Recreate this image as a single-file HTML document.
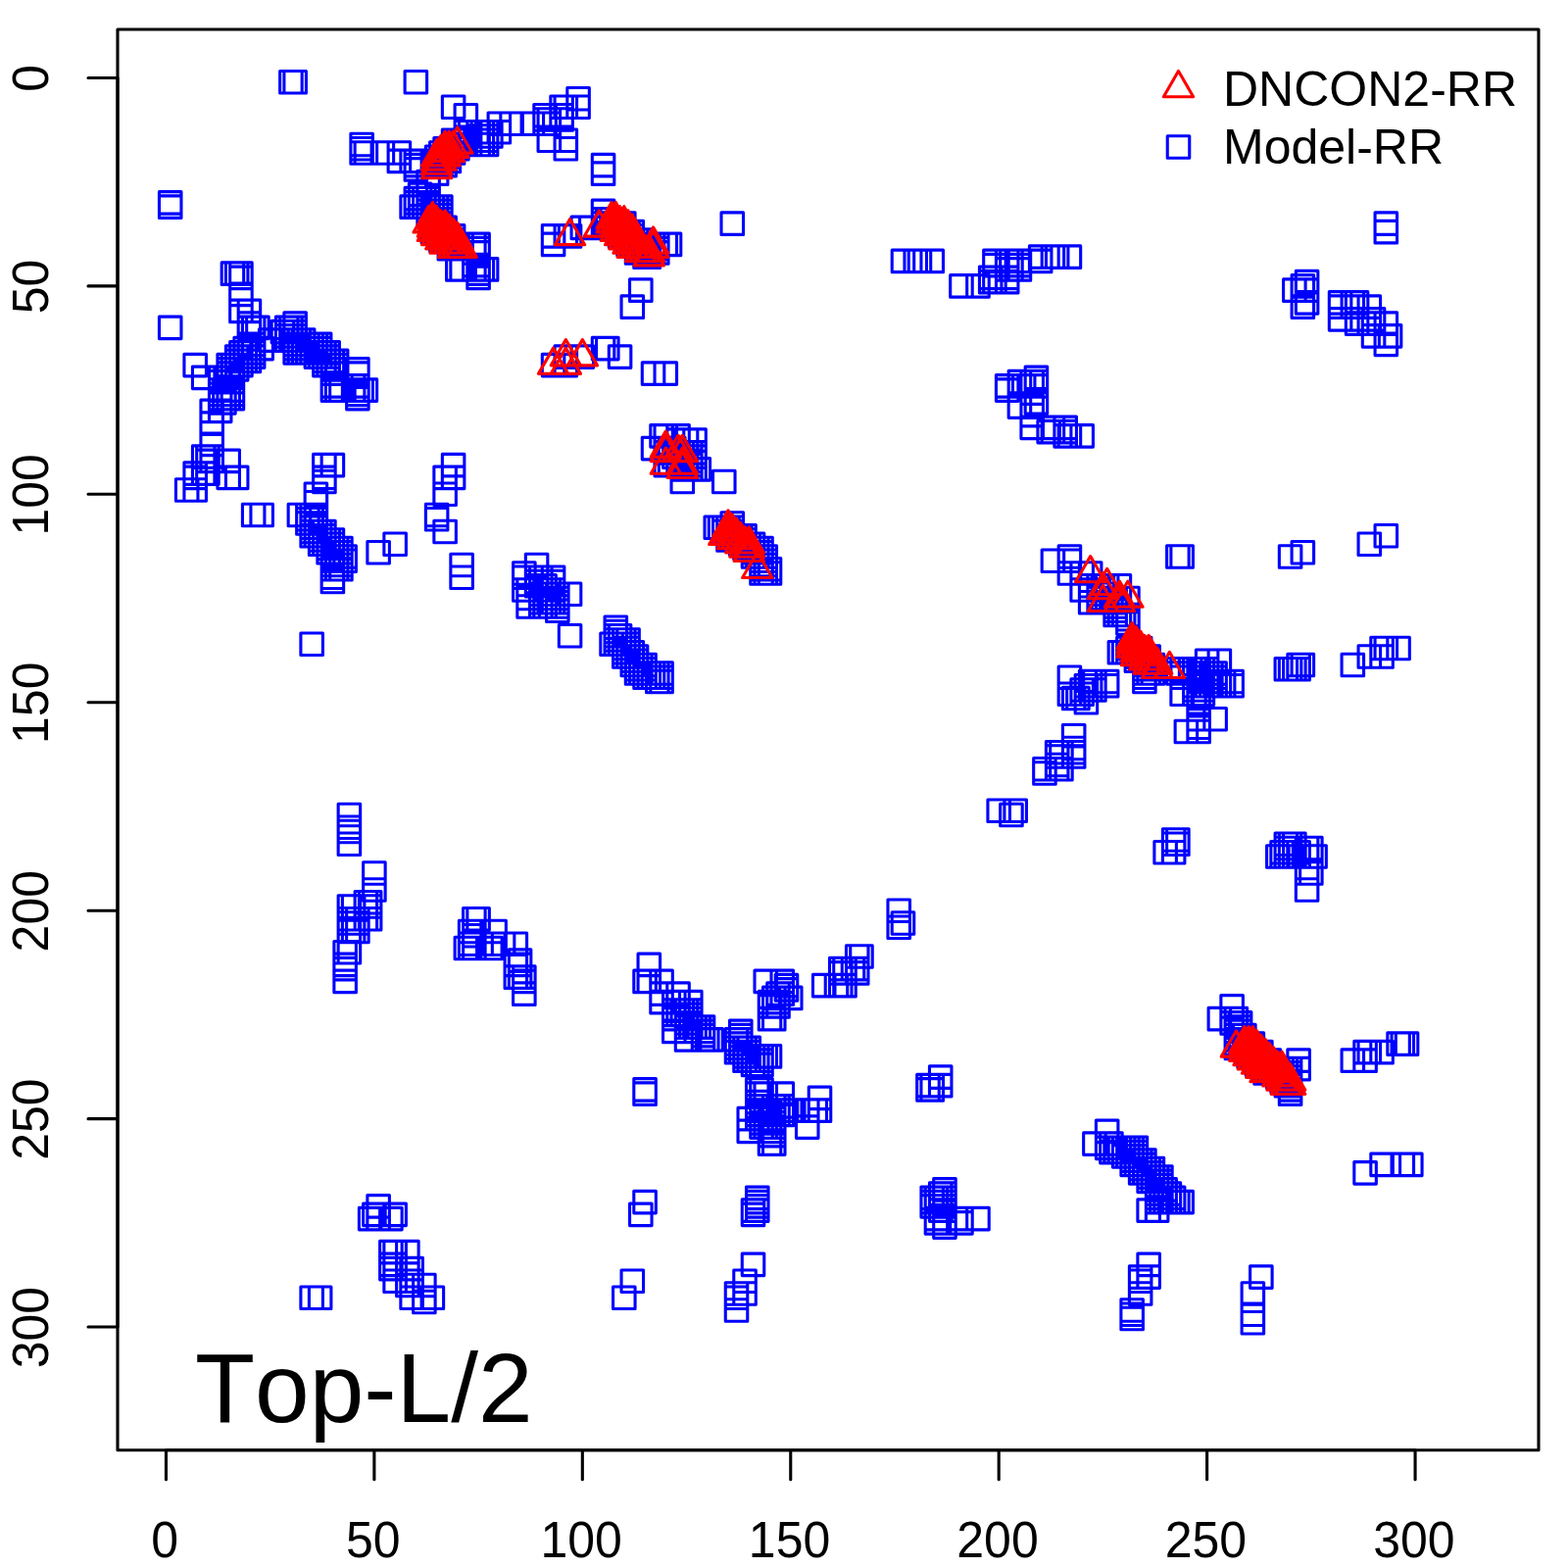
<!DOCTYPE html>
<html lang="en">
<head>
<meta charset="utf-8">
<title>Top-L/2 contact map: DNCON2-RR vs Model-RR</title>
<style>
html,body{margin:0;padding:0;background:#fff;}
body{width:1600px;height:1600px;overflow:hidden;}
svg{display:block;}
text{font-family:"Liberation Sans","DejaVu Sans",sans-serif;fill:#000;font-kerning:none;}
.ax{font-size:50px;}
.lg{font-size:50px;}
.big{font-size:100px;}
</style>
</head>
<body>
<svg width="1600" height="1600" viewBox="0 0 1600 1600">
<rect x="0" y="0" width="1600" height="1600" fill="#fff"/>
<g fill="none" stroke-width="3.1" stroke-linejoin="round" stroke-linecap="round">
<path stroke="#0000ff" d="M285.66 72.45h22.5v22.5h-22.5zM289.91 72.45h22.5v22.5h-22.5zM413.12 72.45h22.5v22.5h-22.5zM578.82 89.44h22.5v22.5h-22.5zM451.36 97.94h22.5v22.5h-22.5zM561.83 97.94h22.5v22.5h-22.5zM566.08 97.94h22.5v22.5h-22.5zM578.82 97.94h22.5v22.5h-22.5zM464.11 106.44h22.5v22.5h-22.5zM544.83 106.44h22.5v22.5h-22.5zM561.83 106.44h22.5v22.5h-22.5zM544.83 110.69h22.5v22.5h-22.5zM549.08 110.69h22.5v22.5h-22.5zM561.83 110.69h22.5v22.5h-22.5zM498.1 114.94h22.5v22.5h-22.5zM510.84 114.94h22.5v22.5h-22.5zM532.09 114.94h22.5v22.5h-22.5zM544.83 114.94h22.5v22.5h-22.5zM549.08 114.94h22.5v22.5h-22.5zM464.11 123.43h22.5v22.5h-22.5zM468.36 123.43h22.5v22.5h-22.5zM476.85 123.43h22.5v22.5h-22.5zM481.1 123.43h22.5v22.5h-22.5zM485.35 123.43h22.5v22.5h-22.5zM489.6 123.43h22.5v22.5h-22.5zM498.1 123.43h22.5v22.5h-22.5zM476.85 127.68h22.5v22.5h-22.5zM481.1 127.68h22.5v22.5h-22.5zM485.35 127.68h22.5v22.5h-22.5zM489.6 127.68h22.5v22.5h-22.5zM451.36 131.93h22.5v22.5h-22.5zM455.61 131.93h22.5v22.5h-22.5zM459.86 131.93h22.5v22.5h-22.5zM464.11 131.93h22.5v22.5h-22.5zM468.36 131.93h22.5v22.5h-22.5zM476.85 131.93h22.5v22.5h-22.5zM481.1 131.93h22.5v22.5h-22.5zM485.35 131.93h22.5v22.5h-22.5zM549.08 131.93h22.5v22.5h-22.5zM566.08 131.93h22.5v22.5h-22.5zM357.89 136.18h22.5v22.5h-22.5zM451.36 136.18h22.5v22.5h-22.5zM455.61 136.18h22.5v22.5h-22.5zM459.86 136.18h22.5v22.5h-22.5zM464.11 136.18h22.5v22.5h-22.5zM468.36 136.18h22.5v22.5h-22.5zM476.85 136.18h22.5v22.5h-22.5zM481.1 136.18h22.5v22.5h-22.5zM485.35 136.18h22.5v22.5h-22.5zM357.89 140.43h22.5v22.5h-22.5zM442.86 140.43h22.5v22.5h-22.5zM447.11 140.43h22.5v22.5h-22.5zM451.36 140.43h22.5v22.5h-22.5zM455.61 140.43h22.5v22.5h-22.5zM566.08 140.43h22.5v22.5h-22.5zM357.89 144.68h22.5v22.5h-22.5zM362.14 144.68h22.5v22.5h-22.5zM379.13 144.68h22.5v22.5h-22.5zM396.13 144.68h22.5v22.5h-22.5zM438.61 144.68h22.5v22.5h-22.5zM442.86 144.68h22.5v22.5h-22.5zM447.11 144.68h22.5v22.5h-22.5zM451.36 144.68h22.5v22.5h-22.5zM434.37 148.93h22.5v22.5h-22.5zM438.61 148.93h22.5v22.5h-22.5zM442.86 148.93h22.5v22.5h-22.5zM447.11 148.93h22.5v22.5h-22.5zM396.13 153.17h22.5v22.5h-22.5zM408.87 153.17h22.5v22.5h-22.5zM413.12 153.17h22.5v22.5h-22.5zM430.12 153.17h22.5v22.5h-22.5zM434.37 153.17h22.5v22.5h-22.5zM438.61 153.17h22.5v22.5h-22.5zM442.86 153.17h22.5v22.5h-22.5zM447.11 153.17h22.5v22.5h-22.5zM413.12 157.42h22.5v22.5h-22.5zM430.12 157.42h22.5v22.5h-22.5zM434.37 157.42h22.5v22.5h-22.5zM438.61 157.42h22.5v22.5h-22.5zM442.86 157.42h22.5v22.5h-22.5zM604.31 157.42h22.5v22.5h-22.5zM413.12 161.67h22.5v22.5h-22.5zM434.37 165.92h22.5v22.5h-22.5zM604.31 165.92h22.5v22.5h-22.5zM425.87 174.42h22.5v22.5h-22.5zM417.37 187.16h22.5v22.5h-22.5zM413.12 191.41h22.5v22.5h-22.5zM417.37 191.41h22.5v22.5h-22.5zM421.62 191.41h22.5v22.5h-22.5zM425.87 191.41h22.5v22.5h-22.5zM162.45 195.66h22.5v22.5h-22.5zM413.12 195.66h22.5v22.5h-22.5zM417.37 195.66h22.5v22.5h-22.5zM421.62 195.66h22.5v22.5h-22.5zM425.87 195.66h22.5v22.5h-22.5zM162.45 199.91h22.5v22.5h-22.5zM408.87 199.91h22.5v22.5h-22.5zM413.12 199.91h22.5v22.5h-22.5zM417.37 199.91h22.5v22.5h-22.5zM421.62 199.91h22.5v22.5h-22.5zM425.87 199.91h22.5v22.5h-22.5zM430.12 199.91h22.5v22.5h-22.5zM434.37 199.91h22.5v22.5h-22.5zM438.61 199.91h22.5v22.5h-22.5zM425.87 204.16h22.5v22.5h-22.5zM430.12 204.16h22.5v22.5h-22.5zM434.37 204.16h22.5v22.5h-22.5zM438.61 204.16h22.5v22.5h-22.5zM604.31 204.16h22.5v22.5h-22.5zM425.87 208.41h22.5v22.5h-22.5zM430.12 208.41h22.5v22.5h-22.5zM434.37 208.41h22.5v22.5h-22.5zM438.61 208.41h22.5v22.5h-22.5zM430.12 212.66h22.5v22.5h-22.5zM434.37 212.66h22.5v22.5h-22.5zM438.61 212.66h22.5v22.5h-22.5zM604.31 212.66h22.5v22.5h-22.5zM608.56 212.66h22.5v22.5h-22.5zM612.81 212.66h22.5v22.5h-22.5zM430.12 216.9h22.5v22.5h-22.5zM434.37 216.9h22.5v22.5h-22.5zM438.61 216.9h22.5v22.5h-22.5zM604.31 216.9h22.5v22.5h-22.5zM608.56 216.9h22.5v22.5h-22.5zM612.81 216.9h22.5v22.5h-22.5zM617.06 216.9h22.5v22.5h-22.5zM621.31 216.9h22.5v22.5h-22.5zM625.56 216.9h22.5v22.5h-22.5zM736.02 216.9h22.5v22.5h-22.5zM1403.07 216.9h22.5v22.5h-22.5zM430.12 221.15h22.5v22.5h-22.5zM434.37 221.15h22.5v22.5h-22.5zM438.61 221.15h22.5v22.5h-22.5zM442.86 221.15h22.5v22.5h-22.5zM583.07 221.15h22.5v22.5h-22.5zM591.57 221.15h22.5v22.5h-22.5zM604.31 221.15h22.5v22.5h-22.5zM608.56 221.15h22.5v22.5h-22.5zM612.81 221.15h22.5v22.5h-22.5zM617.06 221.15h22.5v22.5h-22.5zM621.31 221.15h22.5v22.5h-22.5zM625.56 221.15h22.5v22.5h-22.5zM430.12 225.4h22.5v22.5h-22.5zM434.37 225.4h22.5v22.5h-22.5zM438.61 225.4h22.5v22.5h-22.5zM442.86 225.4h22.5v22.5h-22.5zM621.31 225.4h22.5v22.5h-22.5zM625.56 225.4h22.5v22.5h-22.5zM629.81 225.4h22.5v22.5h-22.5zM634.05 225.4h22.5v22.5h-22.5zM1403.07 225.4h22.5v22.5h-22.5zM438.61 229.65h22.5v22.5h-22.5zM442.86 229.65h22.5v22.5h-22.5zM447.11 229.65h22.5v22.5h-22.5zM451.36 229.65h22.5v22.5h-22.5zM553.33 229.65h22.5v22.5h-22.5zM566.08 229.65h22.5v22.5h-22.5zM570.32 229.65h22.5v22.5h-22.5zM621.31 229.65h22.5v22.5h-22.5zM625.56 229.65h22.5v22.5h-22.5zM629.81 229.65h22.5v22.5h-22.5zM634.05 229.65h22.5v22.5h-22.5zM438.61 233.9h22.5v22.5h-22.5zM442.86 233.9h22.5v22.5h-22.5zM447.11 233.9h22.5v22.5h-22.5zM451.36 233.9h22.5v22.5h-22.5zM629.81 233.9h22.5v22.5h-22.5zM634.05 233.9h22.5v22.5h-22.5zM638.3 233.9h22.5v22.5h-22.5zM642.55 233.9h22.5v22.5h-22.5zM447.11 238.15h22.5v22.5h-22.5zM451.36 238.15h22.5v22.5h-22.5zM455.61 238.15h22.5v22.5h-22.5zM459.86 238.15h22.5v22.5h-22.5zM472.6 238.15h22.5v22.5h-22.5zM476.85 238.15h22.5v22.5h-22.5zM553.33 238.15h22.5v22.5h-22.5zM629.81 238.15h22.5v22.5h-22.5zM634.05 238.15h22.5v22.5h-22.5zM638.3 238.15h22.5v22.5h-22.5zM642.55 238.15h22.5v22.5h-22.5zM646.8 238.15h22.5v22.5h-22.5zM651.05 238.15h22.5v22.5h-22.5zM655.3 238.15h22.5v22.5h-22.5zM659.55 238.15h22.5v22.5h-22.5zM668.04 238.15h22.5v22.5h-22.5zM672.29 238.15h22.5v22.5h-22.5zM447.11 242.4h22.5v22.5h-22.5zM451.36 242.4h22.5v22.5h-22.5zM455.61 242.4h22.5v22.5h-22.5zM459.86 242.4h22.5v22.5h-22.5zM472.6 242.4h22.5v22.5h-22.5zM476.85 242.4h22.5v22.5h-22.5zM638.3 242.4h22.5v22.5h-22.5zM642.55 242.4h22.5v22.5h-22.5zM646.8 242.4h22.5v22.5h-22.5zM651.05 242.4h22.5v22.5h-22.5zM655.3 242.4h22.5v22.5h-22.5zM659.55 242.4h22.5v22.5h-22.5zM472.6 246.65h22.5v22.5h-22.5zM476.85 246.65h22.5v22.5h-22.5zM638.3 246.65h22.5v22.5h-22.5zM642.55 246.65h22.5v22.5h-22.5zM646.8 246.65h22.5v22.5h-22.5zM651.05 246.65h22.5v22.5h-22.5zM655.3 246.65h22.5v22.5h-22.5zM659.55 246.65h22.5v22.5h-22.5zM646.8 250.89h22.5v22.5h-22.5zM651.05 250.89h22.5v22.5h-22.5zM1050.43 250.89h22.5v22.5h-22.5zM1063.17 250.89h22.5v22.5h-22.5zM1067.42 250.89h22.5v22.5h-22.5zM1080.17 250.89h22.5v22.5h-22.5zM910.22 255.14h22.5v22.5h-22.5zM922.97 255.14h22.5v22.5h-22.5zM927.21 255.14h22.5v22.5h-22.5zM939.96 255.14h22.5v22.5h-22.5zM1003.69 255.14h22.5v22.5h-22.5zM1016.44 255.14h22.5v22.5h-22.5zM1020.69 255.14h22.5v22.5h-22.5zM1029.18 255.14h22.5v22.5h-22.5zM1050.43 255.14h22.5v22.5h-22.5zM472.6 259.39h22.5v22.5h-22.5zM476.85 259.39h22.5v22.5h-22.5zM1003.69 259.39h22.5v22.5h-22.5zM1016.44 259.39h22.5v22.5h-22.5zM1020.69 259.39h22.5v22.5h-22.5zM1029.18 259.39h22.5v22.5h-22.5zM455.61 263.64h22.5v22.5h-22.5zM459.86 263.64h22.5v22.5h-22.5zM472.6 263.64h22.5v22.5h-22.5zM476.85 263.64h22.5v22.5h-22.5zM481.1 263.64h22.5v22.5h-22.5zM485.35 263.64h22.5v22.5h-22.5zM1016.44 263.64h22.5v22.5h-22.5zM1020.69 263.64h22.5v22.5h-22.5zM1029.18 263.64h22.5v22.5h-22.5zM226.18 267.89h22.5v22.5h-22.5zM230.43 267.89h22.5v22.5h-22.5zM234.68 267.89h22.5v22.5h-22.5zM476.85 267.89h22.5v22.5h-22.5zM234.68 272.14h22.5v22.5h-22.5zM476.85 272.14h22.5v22.5h-22.5zM999.44 272.14h22.5v22.5h-22.5zM1003.69 272.14h22.5v22.5h-22.5zM1016.44 272.14h22.5v22.5h-22.5zM999.44 276.39h22.5v22.5h-22.5zM1003.69 276.39h22.5v22.5h-22.5zM1016.44 276.39h22.5v22.5h-22.5zM1322.34 276.39h22.5v22.5h-22.5zM969.7 280.64h22.5v22.5h-22.5zM986.7 280.64h22.5v22.5h-22.5zM1318.1 280.64h22.5v22.5h-22.5zM642.55 284.88h22.5v22.5h-22.5zM1309.6 284.88h22.5v22.5h-22.5zM1322.34 284.88h22.5v22.5h-22.5zM234.68 289.13h22.5v22.5h-22.5zM1322.34 297.63h22.5v22.5h-22.5zM1356.33 297.63h22.5v22.5h-22.5zM1369.08 297.63h22.5v22.5h-22.5zM1373.33 297.63h22.5v22.5h-22.5zM634.05 301.88h22.5v22.5h-22.5zM1318.1 301.88h22.5v22.5h-22.5zM1356.33 301.88h22.5v22.5h-22.5zM1369.08 301.88h22.5v22.5h-22.5zM1373.33 301.88h22.5v22.5h-22.5zM1386.07 301.88h22.5v22.5h-22.5zM234.68 306.13h22.5v22.5h-22.5zM243.17 306.13h22.5v22.5h-22.5zM1356.33 314.62h22.5v22.5h-22.5zM1373.33 314.62h22.5v22.5h-22.5zM1386.07 314.62h22.5v22.5h-22.5zM1390.32 314.62h22.5v22.5h-22.5zM243.17 318.87h22.5v22.5h-22.5zM289.91 318.87h22.5v22.5h-22.5zM1373.33 318.87h22.5v22.5h-22.5zM1386.07 318.87h22.5v22.5h-22.5zM1390.32 318.87h22.5v22.5h-22.5zM1403.07 318.87h22.5v22.5h-22.5zM162.45 323.12h22.5v22.5h-22.5zM243.17 323.12h22.5v22.5h-22.5zM247.42 323.12h22.5v22.5h-22.5zM251.67 323.12h22.5v22.5h-22.5zM281.41 323.12h22.5v22.5h-22.5zM285.66 323.12h22.5v22.5h-22.5zM289.91 323.12h22.5v22.5h-22.5zM277.16 327.37h22.5v22.5h-22.5zM281.41 327.37h22.5v22.5h-22.5zM285.66 327.37h22.5v22.5h-22.5zM289.91 327.37h22.5v22.5h-22.5zM281.41 331.62h22.5v22.5h-22.5zM285.66 331.62h22.5v22.5h-22.5zM289.91 331.62h22.5v22.5h-22.5zM1390.32 331.62h22.5v22.5h-22.5zM1403.07 331.62h22.5v22.5h-22.5zM1407.32 331.62h22.5v22.5h-22.5zM264.42 335.87h22.5v22.5h-22.5zM281.41 335.87h22.5v22.5h-22.5zM285.66 335.87h22.5v22.5h-22.5zM289.91 335.87h22.5v22.5h-22.5zM294.16 335.87h22.5v22.5h-22.5zM298.41 335.87h22.5v22.5h-22.5zM243.17 340.12h22.5v22.5h-22.5zM247.42 340.12h22.5v22.5h-22.5zM289.91 340.12h22.5v22.5h-22.5zM294.16 340.12h22.5v22.5h-22.5zM298.41 340.12h22.5v22.5h-22.5zM302.66 340.12h22.5v22.5h-22.5zM306.9 340.12h22.5v22.5h-22.5zM311.15 340.12h22.5v22.5h-22.5zM315.4 340.12h22.5v22.5h-22.5zM1403.07 340.12h22.5v22.5h-22.5zM238.93 344.37h22.5v22.5h-22.5zM243.17 344.37h22.5v22.5h-22.5zM247.42 344.37h22.5v22.5h-22.5zM255.92 344.37h22.5v22.5h-22.5zM289.91 344.37h22.5v22.5h-22.5zM294.16 344.37h22.5v22.5h-22.5zM298.41 344.37h22.5v22.5h-22.5zM302.66 344.37h22.5v22.5h-22.5zM306.9 344.37h22.5v22.5h-22.5zM311.15 344.37h22.5v22.5h-22.5zM315.4 344.37h22.5v22.5h-22.5zM604.31 344.37h22.5v22.5h-22.5zM608.56 344.37h22.5v22.5h-22.5zM234.68 348.61h22.5v22.5h-22.5zM238.93 348.61h22.5v22.5h-22.5zM243.17 348.61h22.5v22.5h-22.5zM247.42 348.61h22.5v22.5h-22.5zM289.91 348.61h22.5v22.5h-22.5zM294.16 348.61h22.5v22.5h-22.5zM298.41 348.61h22.5v22.5h-22.5zM302.66 348.61h22.5v22.5h-22.5zM306.9 348.61h22.5v22.5h-22.5zM311.15 348.61h22.5v22.5h-22.5zM315.4 348.61h22.5v22.5h-22.5zM319.65 348.61h22.5v22.5h-22.5zM323.9 348.61h22.5v22.5h-22.5zM230.43 352.86h22.5v22.5h-22.5zM234.68 352.86h22.5v22.5h-22.5zM238.93 352.86h22.5v22.5h-22.5zM243.17 352.86h22.5v22.5h-22.5zM247.42 352.86h22.5v22.5h-22.5zM311.15 352.86h22.5v22.5h-22.5zM315.4 352.86h22.5v22.5h-22.5zM319.65 352.86h22.5v22.5h-22.5zM323.9 352.86h22.5v22.5h-22.5zM566.08 352.86h22.5v22.5h-22.5zM583.07 352.86h22.5v22.5h-22.5zM621.31 352.86h22.5v22.5h-22.5zM230.43 357.11h22.5v22.5h-22.5zM234.68 357.11h22.5v22.5h-22.5zM238.93 357.11h22.5v22.5h-22.5zM243.17 357.11h22.5v22.5h-22.5zM319.65 357.11h22.5v22.5h-22.5zM323.9 357.11h22.5v22.5h-22.5zM328.15 357.11h22.5v22.5h-22.5zM332.4 357.11h22.5v22.5h-22.5zM187.94 361.36h22.5v22.5h-22.5zM221.93 361.36h22.5v22.5h-22.5zM226.18 361.36h22.5v22.5h-22.5zM230.43 361.36h22.5v22.5h-22.5zM234.68 361.36h22.5v22.5h-22.5zM319.65 361.36h22.5v22.5h-22.5zM323.9 361.36h22.5v22.5h-22.5zM328.15 361.36h22.5v22.5h-22.5zM332.4 361.36h22.5v22.5h-22.5zM553.33 361.36h22.5v22.5h-22.5zM566.08 361.36h22.5v22.5h-22.5zM221.93 365.61h22.5v22.5h-22.5zM226.18 365.61h22.5v22.5h-22.5zM230.43 365.61h22.5v22.5h-22.5zM328.15 365.61h22.5v22.5h-22.5zM332.4 365.61h22.5v22.5h-22.5zM353.64 365.61h22.5v22.5h-22.5zM221.93 369.86h22.5v22.5h-22.5zM226.18 369.86h22.5v22.5h-22.5zM328.15 369.86h22.5v22.5h-22.5zM332.4 369.86h22.5v22.5h-22.5zM353.64 369.86h22.5v22.5h-22.5zM655.3 369.86h22.5v22.5h-22.5zM668.04 369.86h22.5v22.5h-22.5zM196.44 374.11h22.5v22.5h-22.5zM213.43 374.11h22.5v22.5h-22.5zM221.93 374.11h22.5v22.5h-22.5zM226.18 374.11h22.5v22.5h-22.5zM1046.18 374.11h22.5v22.5h-22.5zM213.43 378.36h22.5v22.5h-22.5zM221.93 378.36h22.5v22.5h-22.5zM226.18 378.36h22.5v22.5h-22.5zM1029.18 378.36h22.5v22.5h-22.5zM1041.93 378.36h22.5v22.5h-22.5zM1046.18 378.36h22.5v22.5h-22.5zM328.15 382.6h22.5v22.5h-22.5zM332.4 382.6h22.5v22.5h-22.5zM336.65 382.6h22.5v22.5h-22.5zM349.39 382.6h22.5v22.5h-22.5zM353.64 382.6h22.5v22.5h-22.5zM1016.44 382.6h22.5v22.5h-22.5zM1029.18 382.6h22.5v22.5h-22.5zM1033.43 382.6h22.5v22.5h-22.5zM1046.18 382.6h22.5v22.5h-22.5zM213.43 386.85h22.5v22.5h-22.5zM217.68 386.85h22.5v22.5h-22.5zM221.93 386.85h22.5v22.5h-22.5zM226.18 386.85h22.5v22.5h-22.5zM328.15 386.85h22.5v22.5h-22.5zM332.4 386.85h22.5v22.5h-22.5zM336.65 386.85h22.5v22.5h-22.5zM349.39 386.85h22.5v22.5h-22.5zM353.64 386.85h22.5v22.5h-22.5zM357.89 386.85h22.5v22.5h-22.5zM362.14 386.85h22.5v22.5h-22.5zM1016.44 386.85h22.5v22.5h-22.5zM213.43 391.1h22.5v22.5h-22.5zM217.68 391.1h22.5v22.5h-22.5zM221.93 391.1h22.5v22.5h-22.5zM226.18 391.1h22.5v22.5h-22.5zM353.64 391.1h22.5v22.5h-22.5zM213.43 395.35h22.5v22.5h-22.5zM217.68 395.35h22.5v22.5h-22.5zM221.93 395.35h22.5v22.5h-22.5zM226.18 395.35h22.5v22.5h-22.5zM353.64 395.35h22.5v22.5h-22.5zM213.43 399.6h22.5v22.5h-22.5zM217.68 399.6h22.5v22.5h-22.5zM1046.18 399.6h22.5v22.5h-22.5zM1029.18 403.85h22.5v22.5h-22.5zM1041.93 403.85h22.5v22.5h-22.5zM204.94 408.1h22.5v22.5h-22.5zM213.43 408.1h22.5v22.5h-22.5zM1041.93 412.34h22.5v22.5h-22.5zM204.94 420.84h22.5v22.5h-22.5zM1041.93 425.09h22.5v22.5h-22.5zM1063.17 425.09h22.5v22.5h-22.5zM1075.92 425.09h22.5v22.5h-22.5zM1058.92 429.34h22.5v22.5h-22.5zM1063.17 429.34h22.5v22.5h-22.5zM1075.92 429.34h22.5v22.5h-22.5zM663.8 433.59h22.5v22.5h-22.5zM668.04 433.59h22.5v22.5h-22.5zM680.79 433.59h22.5v22.5h-22.5zM1075.92 433.59h22.5v22.5h-22.5zM1080.17 433.59h22.5v22.5h-22.5zM1092.91 433.59h22.5v22.5h-22.5zM680.79 437.84h22.5v22.5h-22.5zM689.29 437.84h22.5v22.5h-22.5zM697.78 437.84h22.5v22.5h-22.5zM204.94 442.09h22.5v22.5h-22.5zM655.3 446.33h22.5v22.5h-22.5zM668.04 446.33h22.5v22.5h-22.5zM672.29 446.33h22.5v22.5h-22.5zM676.54 446.33h22.5v22.5h-22.5zM668.04 450.58h22.5v22.5h-22.5zM672.29 450.58h22.5v22.5h-22.5zM676.54 450.58h22.5v22.5h-22.5zM680.79 450.58h22.5v22.5h-22.5zM685.04 450.58h22.5v22.5h-22.5zM689.29 450.58h22.5v22.5h-22.5zM693.54 450.58h22.5v22.5h-22.5zM697.78 450.58h22.5v22.5h-22.5zM196.44 454.83h22.5v22.5h-22.5zM200.69 454.83h22.5v22.5h-22.5zM204.94 454.83h22.5v22.5h-22.5zM676.54 454.83h22.5v22.5h-22.5zM680.79 454.83h22.5v22.5h-22.5zM685.04 454.83h22.5v22.5h-22.5zM689.29 454.83h22.5v22.5h-22.5zM693.54 454.83h22.5v22.5h-22.5zM697.78 454.83h22.5v22.5h-22.5zM200.69 459.08h22.5v22.5h-22.5zM204.94 459.08h22.5v22.5h-22.5zM221.93 459.08h22.5v22.5h-22.5zM680.79 459.08h22.5v22.5h-22.5zM685.04 459.08h22.5v22.5h-22.5zM689.29 459.08h22.5v22.5h-22.5zM693.54 459.08h22.5v22.5h-22.5zM319.65 463.33h22.5v22.5h-22.5zM328.15 463.33h22.5v22.5h-22.5zM451.36 463.33h22.5v22.5h-22.5zM668.04 463.33h22.5v22.5h-22.5zM672.29 463.33h22.5v22.5h-22.5zM680.79 463.33h22.5v22.5h-22.5zM685.04 463.33h22.5v22.5h-22.5zM689.29 463.33h22.5v22.5h-22.5zM693.54 463.33h22.5v22.5h-22.5zM685.04 467.58h22.5v22.5h-22.5zM689.29 467.58h22.5v22.5h-22.5zM693.54 467.58h22.5v22.5h-22.5zM697.78 467.58h22.5v22.5h-22.5zM702.03 467.58h22.5v22.5h-22.5zM187.94 471.83h22.5v22.5h-22.5zM196.44 471.83h22.5v22.5h-22.5zM200.69 471.83h22.5v22.5h-22.5zM187.94 476.08h22.5v22.5h-22.5zM221.93 476.08h22.5v22.5h-22.5zM230.43 476.08h22.5v22.5h-22.5zM319.65 476.08h22.5v22.5h-22.5zM442.86 476.08h22.5v22.5h-22.5zM451.36 476.08h22.5v22.5h-22.5zM319.65 480.32h22.5v22.5h-22.5zM685.04 480.32h22.5v22.5h-22.5zM727.53 480.32h22.5v22.5h-22.5zM179.44 488.82h22.5v22.5h-22.5zM187.94 488.82h22.5v22.5h-22.5zM311.15 493.07h22.5v22.5h-22.5zM442.86 493.07h22.5v22.5h-22.5zM311.15 501.57h22.5v22.5h-22.5zM247.42 514.31h22.5v22.5h-22.5zM255.92 514.31h22.5v22.5h-22.5zM294.16 514.31h22.5v22.5h-22.5zM302.66 514.31h22.5v22.5h-22.5zM306.9 514.31h22.5v22.5h-22.5zM311.15 514.31h22.5v22.5h-22.5zM434.37 514.31h22.5v22.5h-22.5zM302.66 518.56h22.5v22.5h-22.5zM306.9 518.56h22.5v22.5h-22.5zM311.15 518.56h22.5v22.5h-22.5zM434.37 518.56h22.5v22.5h-22.5zM302.66 522.81h22.5v22.5h-22.5zM306.9 522.81h22.5v22.5h-22.5zM311.15 522.81h22.5v22.5h-22.5zM736.02 522.81h22.5v22.5h-22.5zM306.9 527.06h22.5v22.5h-22.5zM311.15 527.06h22.5v22.5h-22.5zM719.03 527.06h22.5v22.5h-22.5zM723.28 527.06h22.5v22.5h-22.5zM727.53 527.06h22.5v22.5h-22.5zM731.77 527.06h22.5v22.5h-22.5zM736.02 527.06h22.5v22.5h-22.5zM306.9 531.31h22.5v22.5h-22.5zM311.15 531.31h22.5v22.5h-22.5zM315.4 531.31h22.5v22.5h-22.5zM319.65 531.31h22.5v22.5h-22.5zM442.86 531.31h22.5v22.5h-22.5zM727.53 531.31h22.5v22.5h-22.5zM731.77 531.31h22.5v22.5h-22.5zM736.02 531.31h22.5v22.5h-22.5zM306.9 535.56h22.5v22.5h-22.5zM311.15 535.56h22.5v22.5h-22.5zM315.4 535.56h22.5v22.5h-22.5zM319.65 535.56h22.5v22.5h-22.5zM731.77 535.56h22.5v22.5h-22.5zM736.02 535.56h22.5v22.5h-22.5zM740.27 535.56h22.5v22.5h-22.5zM744.52 535.56h22.5v22.5h-22.5zM748.77 535.56h22.5v22.5h-22.5zM1403.07 535.56h22.5v22.5h-22.5zM315.4 539.81h22.5v22.5h-22.5zM319.65 539.81h22.5v22.5h-22.5zM323.9 539.81h22.5v22.5h-22.5zM328.15 539.81h22.5v22.5h-22.5zM731.77 539.81h22.5v22.5h-22.5zM736.02 539.81h22.5v22.5h-22.5zM740.27 539.81h22.5v22.5h-22.5zM744.52 539.81h22.5v22.5h-22.5zM748.77 539.81h22.5v22.5h-22.5zM315.4 544.05h22.5v22.5h-22.5zM319.65 544.05h22.5v22.5h-22.5zM323.9 544.05h22.5v22.5h-22.5zM328.15 544.05h22.5v22.5h-22.5zM391.88 544.05h22.5v22.5h-22.5zM744.52 544.05h22.5v22.5h-22.5zM748.77 544.05h22.5v22.5h-22.5zM753.02 544.05h22.5v22.5h-22.5zM757.27 544.05h22.5v22.5h-22.5zM1386.07 544.05h22.5v22.5h-22.5zM323.9 548.3h22.5v22.5h-22.5zM328.15 548.3h22.5v22.5h-22.5zM332.4 548.3h22.5v22.5h-22.5zM336.65 548.3h22.5v22.5h-22.5zM748.77 548.3h22.5v22.5h-22.5zM753.02 548.3h22.5v22.5h-22.5zM757.27 548.3h22.5v22.5h-22.5zM761.52 548.3h22.5v22.5h-22.5zM765.76 548.3h22.5v22.5h-22.5zM323.9 552.55h22.5v22.5h-22.5zM328.15 552.55h22.5v22.5h-22.5zM332.4 552.55h22.5v22.5h-22.5zM336.65 552.55h22.5v22.5h-22.5zM374.88 552.55h22.5v22.5h-22.5zM757.27 552.55h22.5v22.5h-22.5zM761.52 552.55h22.5v22.5h-22.5zM765.76 552.55h22.5v22.5h-22.5zM1318.1 552.55h22.5v22.5h-22.5zM328.15 556.8h22.5v22.5h-22.5zM332.4 556.8h22.5v22.5h-22.5zM336.65 556.8h22.5v22.5h-22.5zM340.89 556.8h22.5v22.5h-22.5zM757.27 556.8h22.5v22.5h-22.5zM761.52 556.8h22.5v22.5h-22.5zM765.76 556.8h22.5v22.5h-22.5zM770.01 556.8h22.5v22.5h-22.5zM1080.17 556.8h22.5v22.5h-22.5zM1190.63 556.8h22.5v22.5h-22.5zM1194.88 556.8h22.5v22.5h-22.5zM1305.35 556.8h22.5v22.5h-22.5zM328.15 561.05h22.5v22.5h-22.5zM332.4 561.05h22.5v22.5h-22.5zM336.65 561.05h22.5v22.5h-22.5zM340.89 561.05h22.5v22.5h-22.5zM765.76 561.05h22.5v22.5h-22.5zM770.01 561.05h22.5v22.5h-22.5zM1063.17 561.05h22.5v22.5h-22.5zM1080.17 561.05h22.5v22.5h-22.5zM328.15 565.3h22.5v22.5h-22.5zM332.4 565.3h22.5v22.5h-22.5zM336.65 565.3h22.5v22.5h-22.5zM459.86 565.3h22.5v22.5h-22.5zM536.33 565.3h22.5v22.5h-22.5zM765.76 565.3h22.5v22.5h-22.5zM770.01 565.3h22.5v22.5h-22.5zM328.15 569.55h22.5v22.5h-22.5zM332.4 569.55h22.5v22.5h-22.5zM336.65 569.55h22.5v22.5h-22.5zM765.76 569.55h22.5v22.5h-22.5zM770.01 569.55h22.5v22.5h-22.5zM774.26 569.55h22.5v22.5h-22.5zM523.59 573.8h22.5v22.5h-22.5zM765.76 573.8h22.5v22.5h-22.5zM770.01 573.8h22.5v22.5h-22.5zM774.26 573.8h22.5v22.5h-22.5zM1080.17 573.8h22.5v22.5h-22.5zM1092.91 573.8h22.5v22.5h-22.5zM1101.41 573.8h22.5v22.5h-22.5zM328.15 578.04h22.5v22.5h-22.5zM459.86 578.04h22.5v22.5h-22.5zM523.59 578.04h22.5v22.5h-22.5zM536.33 578.04h22.5v22.5h-22.5zM540.58 578.04h22.5v22.5h-22.5zM553.33 578.04h22.5v22.5h-22.5zM328.15 582.29h22.5v22.5h-22.5zM536.33 582.29h22.5v22.5h-22.5zM540.58 582.29h22.5v22.5h-22.5zM553.33 582.29h22.5v22.5h-22.5zM536.33 586.54h22.5v22.5h-22.5zM540.58 586.54h22.5v22.5h-22.5zM544.83 586.54h22.5v22.5h-22.5zM1101.41 586.54h22.5v22.5h-22.5zM1109.91 586.54h22.5v22.5h-22.5zM1114.16 586.54h22.5v22.5h-22.5zM1118.41 586.54h22.5v22.5h-22.5zM1131.15 586.54h22.5v22.5h-22.5zM523.59 590.79h22.5v22.5h-22.5zM527.84 590.79h22.5v22.5h-22.5zM540.58 590.79h22.5v22.5h-22.5zM544.83 590.79h22.5v22.5h-22.5zM549.08 590.79h22.5v22.5h-22.5zM553.33 590.79h22.5v22.5h-22.5zM1092.91 590.79h22.5v22.5h-22.5zM1101.41 590.79h22.5v22.5h-22.5zM1114.16 590.79h22.5v22.5h-22.5zM540.58 595.04h22.5v22.5h-22.5zM544.83 595.04h22.5v22.5h-22.5zM549.08 595.04h22.5v22.5h-22.5zM553.33 595.04h22.5v22.5h-22.5zM557.58 595.04h22.5v22.5h-22.5zM570.32 595.04h22.5v22.5h-22.5zM1109.91 595.04h22.5v22.5h-22.5zM1114.16 595.04h22.5v22.5h-22.5zM527.84 599.29h22.5v22.5h-22.5zM540.58 599.29h22.5v22.5h-22.5zM544.83 599.29h22.5v22.5h-22.5zM549.08 599.29h22.5v22.5h-22.5zM553.33 599.29h22.5v22.5h-22.5zM557.58 599.29h22.5v22.5h-22.5zM1109.91 599.29h22.5v22.5h-22.5zM1114.16 599.29h22.5v22.5h-22.5zM1118.41 599.29h22.5v22.5h-22.5zM1122.65 599.29h22.5v22.5h-22.5zM1126.9 599.29h22.5v22.5h-22.5zM1131.15 599.29h22.5v22.5h-22.5zM1139.65 599.29h22.5v22.5h-22.5zM540.58 603.54h22.5v22.5h-22.5zM544.83 603.54h22.5v22.5h-22.5zM549.08 603.54h22.5v22.5h-22.5zM553.33 603.54h22.5v22.5h-22.5zM557.58 603.54h22.5v22.5h-22.5zM1101.41 603.54h22.5v22.5h-22.5zM1109.91 603.54h22.5v22.5h-22.5zM1114.16 603.54h22.5v22.5h-22.5zM1118.41 603.54h22.5v22.5h-22.5zM1122.65 603.54h22.5v22.5h-22.5zM1126.9 603.54h22.5v22.5h-22.5zM527.84 607.78h22.5v22.5h-22.5zM540.58 607.78h22.5v22.5h-22.5zM544.83 607.78h22.5v22.5h-22.5zM557.58 607.78h22.5v22.5h-22.5zM1126.9 607.78h22.5v22.5h-22.5zM557.58 612.03h22.5v22.5h-22.5zM1126.9 612.03h22.5v22.5h-22.5zM1126.9 616.28h22.5v22.5h-22.5zM1131.15 616.28h22.5v22.5h-22.5zM1135.4 616.28h22.5v22.5h-22.5zM1139.65 616.28h22.5v22.5h-22.5zM1139.65 620.53h22.5v22.5h-22.5zM1139.65 624.78h22.5v22.5h-22.5zM617.06 629.03h22.5v22.5h-22.5zM617.06 633.28h22.5v22.5h-22.5zM570.32 637.53h22.5v22.5h-22.5zM617.06 637.53h22.5v22.5h-22.5zM621.31 637.53h22.5v22.5h-22.5zM617.06 641.77h22.5v22.5h-22.5zM621.31 641.77h22.5v22.5h-22.5zM625.56 641.77h22.5v22.5h-22.5zM629.81 641.77h22.5v22.5h-22.5zM306.9 646.02h22.5v22.5h-22.5zM612.81 646.02h22.5v22.5h-22.5zM617.06 646.02h22.5v22.5h-22.5zM621.31 646.02h22.5v22.5h-22.5zM625.56 646.02h22.5v22.5h-22.5zM629.81 646.02h22.5v22.5h-22.5zM625.56 650.27h22.5v22.5h-22.5zM629.81 650.27h22.5v22.5h-22.5zM1139.65 650.27h22.5v22.5h-22.5zM1143.9 650.27h22.5v22.5h-22.5zM1148.15 650.27h22.5v22.5h-22.5zM1152.4 650.27h22.5v22.5h-22.5zM1398.82 650.27h22.5v22.5h-22.5zM1403.07 650.27h22.5v22.5h-22.5zM1415.82 650.27h22.5v22.5h-22.5zM625.56 654.52h22.5v22.5h-22.5zM629.81 654.52h22.5v22.5h-22.5zM634.05 654.52h22.5v22.5h-22.5zM1131.15 654.52h22.5v22.5h-22.5zM1135.4 654.52h22.5v22.5h-22.5zM1139.65 654.52h22.5v22.5h-22.5zM1143.9 654.52h22.5v22.5h-22.5zM1148.15 654.52h22.5v22.5h-22.5zM1152.4 654.52h22.5v22.5h-22.5zM625.56 658.77h22.5v22.5h-22.5zM629.81 658.77h22.5v22.5h-22.5zM634.05 658.77h22.5v22.5h-22.5zM638.3 658.77h22.5v22.5h-22.5zM1148.15 658.77h22.5v22.5h-22.5zM1152.4 658.77h22.5v22.5h-22.5zM1156.64 658.77h22.5v22.5h-22.5zM1160.89 658.77h22.5v22.5h-22.5zM1386.07 658.77h22.5v22.5h-22.5zM1398.82 658.77h22.5v22.5h-22.5zM634.05 663.02h22.5v22.5h-22.5zM638.3 663.02h22.5v22.5h-22.5zM1148.15 663.02h22.5v22.5h-22.5zM1152.4 663.02h22.5v22.5h-22.5zM1156.64 663.02h22.5v22.5h-22.5zM1160.89 663.02h22.5v22.5h-22.5zM1220.38 663.02h22.5v22.5h-22.5zM1233.12 663.02h22.5v22.5h-22.5zM634.05 667.27h22.5v22.5h-22.5zM638.3 667.27h22.5v22.5h-22.5zM642.55 667.27h22.5v22.5h-22.5zM646.8 667.27h22.5v22.5h-22.5zM1156.64 667.27h22.5v22.5h-22.5zM1160.89 667.27h22.5v22.5h-22.5zM1165.14 667.27h22.5v22.5h-22.5zM1313.85 667.27h22.5v22.5h-22.5zM1318.1 667.27h22.5v22.5h-22.5zM1369.08 667.27h22.5v22.5h-22.5zM638.3 671.52h22.5v22.5h-22.5zM642.55 671.52h22.5v22.5h-22.5zM646.8 671.52h22.5v22.5h-22.5zM1156.64 671.52h22.5v22.5h-22.5zM1160.89 671.52h22.5v22.5h-22.5zM1165.14 671.52h22.5v22.5h-22.5zM1190.63 671.52h22.5v22.5h-22.5zM1194.88 671.52h22.5v22.5h-22.5zM1203.38 671.52h22.5v22.5h-22.5zM1207.63 671.52h22.5v22.5h-22.5zM1211.88 671.52h22.5v22.5h-22.5zM1216.13 671.52h22.5v22.5h-22.5zM1220.38 671.52h22.5v22.5h-22.5zM1301.1 671.52h22.5v22.5h-22.5zM1305.35 671.52h22.5v22.5h-22.5zM1309.6 671.52h22.5v22.5h-22.5zM1313.85 671.52h22.5v22.5h-22.5zM638.3 675.76h22.5v22.5h-22.5zM642.55 675.76h22.5v22.5h-22.5zM646.8 675.76h22.5v22.5h-22.5zM651.05 675.76h22.5v22.5h-22.5zM655.3 675.76h22.5v22.5h-22.5zM659.55 675.76h22.5v22.5h-22.5zM663.8 675.76h22.5v22.5h-22.5zM1156.64 675.76h22.5v22.5h-22.5zM1160.89 675.76h22.5v22.5h-22.5zM1165.14 675.76h22.5v22.5h-22.5zM1190.63 675.76h22.5v22.5h-22.5zM1203.38 675.76h22.5v22.5h-22.5zM1207.63 675.76h22.5v22.5h-22.5zM1211.88 675.76h22.5v22.5h-22.5zM1216.13 675.76h22.5v22.5h-22.5zM1220.38 675.76h22.5v22.5h-22.5zM1224.62 675.76h22.5v22.5h-22.5zM1228.87 675.76h22.5v22.5h-22.5zM646.8 680.01h22.5v22.5h-22.5zM651.05 680.01h22.5v22.5h-22.5zM655.3 680.01h22.5v22.5h-22.5zM659.55 680.01h22.5v22.5h-22.5zM663.8 680.01h22.5v22.5h-22.5zM1080.17 680.01h22.5v22.5h-22.5zM1156.64 680.01h22.5v22.5h-22.5zM1194.88 680.01h22.5v22.5h-22.5zM1207.63 680.01h22.5v22.5h-22.5zM1211.88 680.01h22.5v22.5h-22.5zM1216.13 680.01h22.5v22.5h-22.5zM1220.38 680.01h22.5v22.5h-22.5zM1224.62 680.01h22.5v22.5h-22.5zM1228.87 680.01h22.5v22.5h-22.5zM659.55 684.26h22.5v22.5h-22.5zM663.8 684.26h22.5v22.5h-22.5zM1101.41 684.26h22.5v22.5h-22.5zM1105.66 684.26h22.5v22.5h-22.5zM1118.41 684.26h22.5v22.5h-22.5zM1156.64 684.26h22.5v22.5h-22.5zM1211.88 684.26h22.5v22.5h-22.5zM1220.38 684.26h22.5v22.5h-22.5zM1224.62 684.26h22.5v22.5h-22.5zM1228.87 684.26h22.5v22.5h-22.5zM1233.12 684.26h22.5v22.5h-22.5zM1237.37 684.26h22.5v22.5h-22.5zM1245.87 684.26h22.5v22.5h-22.5zM1097.16 688.51h22.5v22.5h-22.5zM1101.41 688.51h22.5v22.5h-22.5zM1118.41 688.51h22.5v22.5h-22.5zM1207.63 688.51h22.5v22.5h-22.5zM1211.88 688.51h22.5v22.5h-22.5zM1216.13 688.51h22.5v22.5h-22.5zM1220.38 688.51h22.5v22.5h-22.5zM1224.62 688.51h22.5v22.5h-22.5zM1228.87 688.51h22.5v22.5h-22.5zM1233.12 688.51h22.5v22.5h-22.5zM1237.37 688.51h22.5v22.5h-22.5zM1245.87 688.51h22.5v22.5h-22.5zM1092.91 692.76h22.5v22.5h-22.5zM1097.16 692.76h22.5v22.5h-22.5zM1101.41 692.76h22.5v22.5h-22.5zM1105.66 692.76h22.5v22.5h-22.5zM1207.63 692.76h22.5v22.5h-22.5zM1216.13 692.76h22.5v22.5h-22.5zM1080.17 697.01h22.5v22.5h-22.5zM1092.91 697.01h22.5v22.5h-22.5zM1194.88 697.01h22.5v22.5h-22.5zM1207.63 697.01h22.5v22.5h-22.5zM1211.88 697.01h22.5v22.5h-22.5zM1216.13 697.01h22.5v22.5h-22.5zM1084.42 701.26h22.5v22.5h-22.5zM1088.67 701.26h22.5v22.5h-22.5zM1211.88 701.26h22.5v22.5h-22.5zM1097.16 705.51h22.5v22.5h-22.5zM1211.88 705.51h22.5v22.5h-22.5zM1211.88 722.5h22.5v22.5h-22.5zM1228.87 722.5h22.5v22.5h-22.5zM1211.88 731h22.5v22.5h-22.5zM1199.13 735.25h22.5v22.5h-22.5zM1211.88 735.25h22.5v22.5h-22.5zM1084.42 739.49h22.5v22.5h-22.5zM1084.42 752.24h22.5v22.5h-22.5zM1067.42 756.49h22.5v22.5h-22.5zM1071.67 756.49h22.5v22.5h-22.5zM1084.42 756.49h22.5v22.5h-22.5zM1067.42 760.74h22.5v22.5h-22.5zM1071.67 760.74h22.5v22.5h-22.5zM1084.42 760.74h22.5v22.5h-22.5zM1067.42 769.24h22.5v22.5h-22.5zM1054.68 773.48h22.5v22.5h-22.5zM1067.42 773.48h22.5v22.5h-22.5zM1071.67 773.48h22.5v22.5h-22.5zM1054.68 777.73h22.5v22.5h-22.5zM1007.94 815.97h22.5v22.5h-22.5zM1024.93 815.97h22.5v22.5h-22.5zM345.14 820.22h22.5v22.5h-22.5zM1020.69 820.22h22.5v22.5h-22.5zM345.14 832.97h22.5v22.5h-22.5zM345.14 837.21h22.5v22.5h-22.5zM1186.39 845.71h22.5v22.5h-22.5zM1190.63 845.71h22.5v22.5h-22.5zM345.14 849.96h22.5v22.5h-22.5zM1186.39 849.96h22.5v22.5h-22.5zM1190.63 849.96h22.5v22.5h-22.5zM1301.1 849.96h22.5v22.5h-22.5zM1305.35 849.96h22.5v22.5h-22.5zM1309.6 849.96h22.5v22.5h-22.5zM1301.1 854.21h22.5v22.5h-22.5zM1305.35 854.21h22.5v22.5h-22.5zM1309.6 854.21h22.5v22.5h-22.5zM1322.34 854.21h22.5v22.5h-22.5zM1326.59 854.21h22.5v22.5h-22.5zM1177.89 858.46h22.5v22.5h-22.5zM1186.39 858.46h22.5v22.5h-22.5zM1296.85 858.46h22.5v22.5h-22.5zM1301.1 858.46h22.5v22.5h-22.5zM1305.35 858.46h22.5v22.5h-22.5zM1309.6 858.46h22.5v22.5h-22.5zM1313.85 858.46h22.5v22.5h-22.5zM1292.6 862.71h22.5v22.5h-22.5zM1296.85 862.71h22.5v22.5h-22.5zM1301.1 862.71h22.5v22.5h-22.5zM1305.35 862.71h22.5v22.5h-22.5zM1309.6 862.71h22.5v22.5h-22.5zM1313.85 862.71h22.5v22.5h-22.5zM1322.34 862.71h22.5v22.5h-22.5zM1326.59 862.71h22.5v22.5h-22.5zM1330.84 862.71h22.5v22.5h-22.5zM370.63 879.7h22.5v22.5h-22.5zM1322.34 879.7h22.5v22.5h-22.5zM1326.59 879.7h22.5v22.5h-22.5zM370.63 896.7h22.5v22.5h-22.5zM1322.34 896.7h22.5v22.5h-22.5zM362.14 909.44h22.5v22.5h-22.5zM366.39 909.44h22.5v22.5h-22.5zM345.14 913.69h22.5v22.5h-22.5zM349.39 913.69h22.5v22.5h-22.5zM362.14 913.69h22.5v22.5h-22.5zM366.39 913.69h22.5v22.5h-22.5zM905.97 917.94h22.5v22.5h-22.5zM345.14 926.44h22.5v22.5h-22.5zM349.39 926.44h22.5v22.5h-22.5zM353.64 926.44h22.5v22.5h-22.5zM362.14 926.44h22.5v22.5h-22.5zM366.39 926.44h22.5v22.5h-22.5zM472.6 926.44h22.5v22.5h-22.5zM476.85 926.44h22.5v22.5h-22.5zM345.14 930.69h22.5v22.5h-22.5zM349.39 930.69h22.5v22.5h-22.5zM353.64 930.69h22.5v22.5h-22.5zM910.22 930.69h22.5v22.5h-22.5zM905.97 934.93h22.5v22.5h-22.5zM345.14 939.18h22.5v22.5h-22.5zM349.39 939.18h22.5v22.5h-22.5zM353.64 939.18h22.5v22.5h-22.5zM468.36 939.18h22.5v22.5h-22.5zM472.6 939.18h22.5v22.5h-22.5zM493.85 939.18h22.5v22.5h-22.5zM472.6 943.43h22.5v22.5h-22.5zM468.36 951.93h22.5v22.5h-22.5zM493.85 951.93h22.5v22.5h-22.5zM502.34 951.93h22.5v22.5h-22.5zM515.09 951.93h22.5v22.5h-22.5zM464.11 956.18h22.5v22.5h-22.5zM468.36 956.18h22.5v22.5h-22.5zM472.6 956.18h22.5v22.5h-22.5zM489.6 956.18h22.5v22.5h-22.5zM340.89 960.43h22.5v22.5h-22.5zM345.14 960.43h22.5v22.5h-22.5zM863.48 964.68h22.5v22.5h-22.5zM867.73 964.68h22.5v22.5h-22.5zM519.34 968.92h22.5v22.5h-22.5zM340.89 973.17h22.5v22.5h-22.5zM515.09 973.17h22.5v22.5h-22.5zM519.34 973.17h22.5v22.5h-22.5zM651.05 973.17h22.5v22.5h-22.5zM340.89 977.42h22.5v22.5h-22.5zM846.49 977.42h22.5v22.5h-22.5zM850.74 977.42h22.5v22.5h-22.5zM859.24 977.42h22.5v22.5h-22.5zM863.48 977.42h22.5v22.5h-22.5zM846.49 981.67h22.5v22.5h-22.5zM850.74 981.67h22.5v22.5h-22.5zM863.48 981.67h22.5v22.5h-22.5zM515.09 985.92h22.5v22.5h-22.5zM519.34 985.92h22.5v22.5h-22.5zM523.59 985.92h22.5v22.5h-22.5zM340.89 990.17h22.5v22.5h-22.5zM523.59 990.17h22.5v22.5h-22.5zM646.8 990.17h22.5v22.5h-22.5zM651.05 990.17h22.5v22.5h-22.5zM663.8 990.17h22.5v22.5h-22.5zM770.01 990.17h22.5v22.5h-22.5zM787.01 990.17h22.5v22.5h-22.5zM791.26 994.42h22.5v22.5h-22.5zM829.49 994.42h22.5v22.5h-22.5zM842.24 994.42h22.5v22.5h-22.5zM846.49 994.42h22.5v22.5h-22.5zM850.74 994.42h22.5v22.5h-22.5zM791.26 998.67h22.5v22.5h-22.5zM523.59 1002.91h22.5v22.5h-22.5zM663.8 1002.91h22.5v22.5h-22.5zM680.79 1002.91h22.5v22.5h-22.5zM782.76 1002.91h22.5v22.5h-22.5zM787.01 1002.91h22.5v22.5h-22.5zM778.51 1007.16h22.5v22.5h-22.5zM782.76 1007.16h22.5v22.5h-22.5zM795.51 1007.16h22.5v22.5h-22.5zM663.8 1011.41h22.5v22.5h-22.5zM676.54 1011.41h22.5v22.5h-22.5zM680.79 1011.41h22.5v22.5h-22.5zM693.54 1011.41h22.5v22.5h-22.5zM774.26 1011.41h22.5v22.5h-22.5zM778.51 1011.41h22.5v22.5h-22.5zM782.76 1011.41h22.5v22.5h-22.5zM774.26 1015.66h22.5v22.5h-22.5zM782.76 1015.66h22.5v22.5h-22.5zM1245.87 1015.66h22.5v22.5h-22.5zM676.54 1019.91h22.5v22.5h-22.5zM685.04 1019.91h22.5v22.5h-22.5zM689.29 1019.91h22.5v22.5h-22.5zM693.54 1019.91h22.5v22.5h-22.5zM676.54 1024.16h22.5v22.5h-22.5zM680.79 1024.16h22.5v22.5h-22.5zM685.04 1024.16h22.5v22.5h-22.5zM689.29 1024.16h22.5v22.5h-22.5zM693.54 1024.16h22.5v22.5h-22.5zM676.54 1028.41h22.5v22.5h-22.5zM689.29 1028.41h22.5v22.5h-22.5zM693.54 1028.41h22.5v22.5h-22.5zM774.26 1028.41h22.5v22.5h-22.5zM778.51 1028.41h22.5v22.5h-22.5zM1233.12 1028.41h22.5v22.5h-22.5zM1245.87 1028.41h22.5v22.5h-22.5zM1250.12 1028.41h22.5v22.5h-22.5zM689.29 1032.65h22.5v22.5h-22.5zM693.54 1032.65h22.5v22.5h-22.5zM1245.87 1032.65h22.5v22.5h-22.5zM1250.12 1032.65h22.5v22.5h-22.5zM1254.36 1032.65h22.5v22.5h-22.5zM689.29 1036.9h22.5v22.5h-22.5zM693.54 1036.9h22.5v22.5h-22.5zM697.78 1036.9h22.5v22.5h-22.5zM702.03 1036.9h22.5v22.5h-22.5zM706.28 1036.9h22.5v22.5h-22.5zM1250.12 1036.9h22.5v22.5h-22.5zM1254.36 1036.9h22.5v22.5h-22.5zM676.54 1041.15h22.5v22.5h-22.5zM689.29 1041.15h22.5v22.5h-22.5zM706.28 1041.15h22.5v22.5h-22.5zM744.52 1041.15h22.5v22.5h-22.5zM1250.12 1041.15h22.5v22.5h-22.5zM1254.36 1041.15h22.5v22.5h-22.5zM706.28 1045.4h22.5v22.5h-22.5zM744.52 1045.4h22.5v22.5h-22.5zM1250.12 1045.4h22.5v22.5h-22.5zM1254.36 1045.4h22.5v22.5h-22.5zM1258.61 1045.4h22.5v22.5h-22.5zM689.29 1049.65h22.5v22.5h-22.5zM706.28 1049.65h22.5v22.5h-22.5zM710.53 1049.65h22.5v22.5h-22.5zM714.78 1049.65h22.5v22.5h-22.5zM740.27 1049.65h22.5v22.5h-22.5zM744.52 1049.65h22.5v22.5h-22.5zM1250.12 1049.65h22.5v22.5h-22.5zM1254.36 1049.65h22.5v22.5h-22.5zM1258.61 1049.65h22.5v22.5h-22.5zM740.27 1053.9h22.5v22.5h-22.5zM744.52 1053.9h22.5v22.5h-22.5zM1250.12 1053.9h22.5v22.5h-22.5zM1254.36 1053.9h22.5v22.5h-22.5zM1258.61 1053.9h22.5v22.5h-22.5zM1262.86 1053.9h22.5v22.5h-22.5zM1267.11 1053.9h22.5v22.5h-22.5zM1415.82 1053.9h22.5v22.5h-22.5zM1420.06 1053.9h22.5v22.5h-22.5zM1424.31 1053.9h22.5v22.5h-22.5zM740.27 1058.15h22.5v22.5h-22.5zM744.52 1058.15h22.5v22.5h-22.5zM748.77 1058.15h22.5v22.5h-22.5zM753.02 1058.15h22.5v22.5h-22.5zM1250.12 1058.15h22.5v22.5h-22.5zM1254.36 1058.15h22.5v22.5h-22.5zM1258.61 1058.15h22.5v22.5h-22.5zM1262.86 1058.15h22.5v22.5h-22.5zM1267.11 1058.15h22.5v22.5h-22.5zM740.27 1062.4h22.5v22.5h-22.5zM744.52 1062.4h22.5v22.5h-22.5zM748.77 1062.4h22.5v22.5h-22.5zM753.02 1062.4h22.5v22.5h-22.5zM1262.86 1062.4h22.5v22.5h-22.5zM1267.11 1062.4h22.5v22.5h-22.5zM1271.36 1062.4h22.5v22.5h-22.5zM1275.61 1062.4h22.5v22.5h-22.5zM1381.83 1062.4h22.5v22.5h-22.5zM1386.07 1062.4h22.5v22.5h-22.5zM1398.82 1062.4h22.5v22.5h-22.5zM748.77 1066.64h22.5v22.5h-22.5zM753.02 1066.64h22.5v22.5h-22.5zM757.27 1066.64h22.5v22.5h-22.5zM761.52 1066.64h22.5v22.5h-22.5zM765.76 1066.64h22.5v22.5h-22.5zM770.01 1066.64h22.5v22.5h-22.5zM774.26 1066.64h22.5v22.5h-22.5zM1262.86 1066.64h22.5v22.5h-22.5zM1267.11 1066.64h22.5v22.5h-22.5zM1271.36 1066.64h22.5v22.5h-22.5zM1275.61 1066.64h22.5v22.5h-22.5zM748.77 1070.89h22.5v22.5h-22.5zM753.02 1070.89h22.5v22.5h-22.5zM757.27 1070.89h22.5v22.5h-22.5zM761.52 1070.89h22.5v22.5h-22.5zM765.76 1070.89h22.5v22.5h-22.5zM1271.36 1070.89h22.5v22.5h-22.5zM1275.61 1070.89h22.5v22.5h-22.5zM1279.86 1070.89h22.5v22.5h-22.5zM1284.11 1070.89h22.5v22.5h-22.5zM1313.85 1070.89h22.5v22.5h-22.5zM1369.08 1070.89h22.5v22.5h-22.5zM1381.83 1070.89h22.5v22.5h-22.5zM757.27 1075.14h22.5v22.5h-22.5zM761.52 1075.14h22.5v22.5h-22.5zM765.76 1075.14h22.5v22.5h-22.5zM1271.36 1075.14h22.5v22.5h-22.5zM1275.61 1075.14h22.5v22.5h-22.5zM1279.86 1075.14h22.5v22.5h-22.5zM1284.11 1075.14h22.5v22.5h-22.5zM1279.86 1079.39h22.5v22.5h-22.5zM1284.11 1079.39h22.5v22.5h-22.5zM1288.35 1079.39h22.5v22.5h-22.5zM1292.6 1079.39h22.5v22.5h-22.5zM1296.85 1079.39h22.5v22.5h-22.5zM1301.1 1079.39h22.5v22.5h-22.5zM1305.35 1079.39h22.5v22.5h-22.5zM1313.85 1079.39h22.5v22.5h-22.5zM1279.86 1083.64h22.5v22.5h-22.5zM1284.11 1083.64h22.5v22.5h-22.5zM1288.35 1083.64h22.5v22.5h-22.5zM1292.6 1083.64h22.5v22.5h-22.5zM1296.85 1083.64h22.5v22.5h-22.5zM1301.1 1083.64h22.5v22.5h-22.5zM1305.35 1083.64h22.5v22.5h-22.5zM948.46 1087.89h22.5v22.5h-22.5zM1292.6 1087.89h22.5v22.5h-22.5zM1296.85 1087.89h22.5v22.5h-22.5zM1301.1 1087.89h22.5v22.5h-22.5zM1305.35 1087.89h22.5v22.5h-22.5zM1296.85 1092.14h22.5v22.5h-22.5zM1301.1 1092.14h22.5v22.5h-22.5zM1305.35 1092.14h22.5v22.5h-22.5zM935.71 1096.39h22.5v22.5h-22.5zM939.96 1096.39h22.5v22.5h-22.5zM948.46 1096.39h22.5v22.5h-22.5zM1301.1 1096.39h22.5v22.5h-22.5zM1305.35 1096.39h22.5v22.5h-22.5zM646.8 1100.63h22.5v22.5h-22.5zM761.52 1100.63h22.5v22.5h-22.5zM765.76 1100.63h22.5v22.5h-22.5zM935.71 1100.63h22.5v22.5h-22.5zM939.96 1100.63h22.5v22.5h-22.5zM1305.35 1100.63h22.5v22.5h-22.5zM646.8 1104.88h22.5v22.5h-22.5zM761.52 1104.88h22.5v22.5h-22.5zM770.01 1104.88h22.5v22.5h-22.5zM787.01 1104.88h22.5v22.5h-22.5zM1305.35 1104.88h22.5v22.5h-22.5zM825.25 1109.13h22.5v22.5h-22.5zM761.52 1113.38h22.5v22.5h-22.5zM765.76 1113.38h22.5v22.5h-22.5zM761.52 1117.63h22.5v22.5h-22.5zM765.76 1117.63h22.5v22.5h-22.5zM770.01 1117.63h22.5v22.5h-22.5zM778.51 1117.63h22.5v22.5h-22.5zM782.76 1117.63h22.5v22.5h-22.5zM787.01 1117.63h22.5v22.5h-22.5zM761.52 1121.88h22.5v22.5h-22.5zM765.76 1121.88h22.5v22.5h-22.5zM770.01 1121.88h22.5v22.5h-22.5zM774.26 1121.88h22.5v22.5h-22.5zM778.51 1121.88h22.5v22.5h-22.5zM787.01 1121.88h22.5v22.5h-22.5zM791.26 1121.88h22.5v22.5h-22.5zM795.51 1121.88h22.5v22.5h-22.5zM812.5 1121.88h22.5v22.5h-22.5zM821 1121.88h22.5v22.5h-22.5zM825.25 1121.88h22.5v22.5h-22.5zM761.52 1126.13h22.5v22.5h-22.5zM765.76 1126.13h22.5v22.5h-22.5zM770.01 1126.13h22.5v22.5h-22.5zM778.51 1126.13h22.5v22.5h-22.5zM782.76 1126.13h22.5v22.5h-22.5zM787.01 1126.13h22.5v22.5h-22.5zM753.02 1130.38h22.5v22.5h-22.5zM761.52 1130.38h22.5v22.5h-22.5zM765.76 1130.38h22.5v22.5h-22.5zM770.01 1130.38h22.5v22.5h-22.5zM774.26 1130.38h22.5v22.5h-22.5zM778.51 1130.38h22.5v22.5h-22.5zM765.76 1134.62h22.5v22.5h-22.5zM770.01 1134.62h22.5v22.5h-22.5zM774.26 1134.62h22.5v22.5h-22.5zM778.51 1134.62h22.5v22.5h-22.5zM765.76 1138.87h22.5v22.5h-22.5zM770.01 1138.87h22.5v22.5h-22.5zM774.26 1138.87h22.5v22.5h-22.5zM778.51 1138.87h22.5v22.5h-22.5zM812.5 1138.87h22.5v22.5h-22.5zM753.02 1143.12h22.5v22.5h-22.5zM774.26 1143.12h22.5v22.5h-22.5zM778.51 1143.12h22.5v22.5h-22.5zM1118.41 1143.12h22.5v22.5h-22.5zM774.26 1147.37h22.5v22.5h-22.5zM778.51 1147.37h22.5v22.5h-22.5zM774.26 1155.87h22.5v22.5h-22.5zM778.51 1155.87h22.5v22.5h-22.5zM1105.66 1155.87h22.5v22.5h-22.5zM1118.41 1155.87h22.5v22.5h-22.5zM1122.65 1155.87h22.5v22.5h-22.5zM1118.41 1160.12h22.5v22.5h-22.5zM1122.65 1160.12h22.5v22.5h-22.5zM1126.9 1160.12h22.5v22.5h-22.5zM1131.15 1160.12h22.5v22.5h-22.5zM1135.4 1160.12h22.5v22.5h-22.5zM1139.65 1160.12h22.5v22.5h-22.5zM1143.9 1160.12h22.5v22.5h-22.5zM1148.15 1160.12h22.5v22.5h-22.5zM1122.65 1164.36h22.5v22.5h-22.5zM1126.9 1164.36h22.5v22.5h-22.5zM1131.15 1164.36h22.5v22.5h-22.5zM1135.4 1164.36h22.5v22.5h-22.5zM1139.65 1164.36h22.5v22.5h-22.5zM1143.9 1164.36h22.5v22.5h-22.5zM1148.15 1164.36h22.5v22.5h-22.5zM1135.4 1168.61h22.5v22.5h-22.5zM1139.65 1168.61h22.5v22.5h-22.5zM1143.9 1168.61h22.5v22.5h-22.5zM1148.15 1168.61h22.5v22.5h-22.5zM1143.9 1172.86h22.5v22.5h-22.5zM1148.15 1172.86h22.5v22.5h-22.5zM1152.4 1172.86h22.5v22.5h-22.5zM1156.64 1172.86h22.5v22.5h-22.5zM1143.9 1177.11h22.5v22.5h-22.5zM1148.15 1177.11h22.5v22.5h-22.5zM1152.4 1177.11h22.5v22.5h-22.5zM1156.64 1177.11h22.5v22.5h-22.5zM1398.82 1177.11h22.5v22.5h-22.5zM1420.06 1177.11h22.5v22.5h-22.5zM1428.56 1177.11h22.5v22.5h-22.5zM1152.4 1181.36h22.5v22.5h-22.5zM1156.64 1181.36h22.5v22.5h-22.5zM1160.89 1181.36h22.5v22.5h-22.5zM1165.14 1181.36h22.5v22.5h-22.5zM1152.4 1185.61h22.5v22.5h-22.5zM1156.64 1185.61h22.5v22.5h-22.5zM1160.89 1185.61h22.5v22.5h-22.5zM1165.14 1185.61h22.5v22.5h-22.5zM1381.83 1185.61h22.5v22.5h-22.5zM1160.89 1189.86h22.5v22.5h-22.5zM1165.14 1189.86h22.5v22.5h-22.5zM1169.39 1189.86h22.5v22.5h-22.5zM1173.64 1189.86h22.5v22.5h-22.5zM1160.89 1194.11h22.5v22.5h-22.5zM1165.14 1194.11h22.5v22.5h-22.5zM1169.39 1194.11h22.5v22.5h-22.5zM1173.64 1194.11h22.5v22.5h-22.5zM1169.39 1198.35h22.5v22.5h-22.5zM1173.64 1198.35h22.5v22.5h-22.5zM952.71 1202.6h22.5v22.5h-22.5zM1169.39 1202.6h22.5v22.5h-22.5zM1173.64 1202.6h22.5v22.5h-22.5zM1177.89 1202.6h22.5v22.5h-22.5zM948.46 1206.85h22.5v22.5h-22.5zM952.71 1206.85h22.5v22.5h-22.5zM1169.39 1206.85h22.5v22.5h-22.5zM1173.64 1206.85h22.5v22.5h-22.5zM1177.89 1206.85h22.5v22.5h-22.5zM1182.14 1206.85h22.5v22.5h-22.5zM761.52 1211.1h22.5v22.5h-22.5zM939.96 1211.1h22.5v22.5h-22.5zM944.21 1211.1h22.5v22.5h-22.5zM948.46 1211.1h22.5v22.5h-22.5zM952.71 1211.1h22.5v22.5h-22.5zM1169.39 1211.1h22.5v22.5h-22.5zM1173.64 1211.1h22.5v22.5h-22.5zM1177.89 1211.1h22.5v22.5h-22.5zM1182.14 1211.1h22.5v22.5h-22.5zM1186.39 1211.1h22.5v22.5h-22.5zM646.8 1215.35h22.5v22.5h-22.5zM761.52 1215.35h22.5v22.5h-22.5zM939.96 1215.35h22.5v22.5h-22.5zM944.21 1215.35h22.5v22.5h-22.5zM948.46 1215.35h22.5v22.5h-22.5zM952.71 1215.35h22.5v22.5h-22.5zM1169.39 1215.35h22.5v22.5h-22.5zM1173.64 1215.35h22.5v22.5h-22.5zM1177.89 1215.35h22.5v22.5h-22.5zM1182.14 1215.35h22.5v22.5h-22.5zM1186.39 1215.35h22.5v22.5h-22.5zM1190.63 1215.35h22.5v22.5h-22.5zM1194.88 1215.35h22.5v22.5h-22.5zM374.88 1219.6h22.5v22.5h-22.5zM761.52 1219.6h22.5v22.5h-22.5zM939.96 1219.6h22.5v22.5h-22.5zM944.21 1219.6h22.5v22.5h-22.5zM948.46 1219.6h22.5v22.5h-22.5zM952.71 1219.6h22.5v22.5h-22.5zM757.27 1223.85h22.5v22.5h-22.5zM761.52 1223.85h22.5v22.5h-22.5zM948.46 1223.85h22.5v22.5h-22.5zM952.71 1223.85h22.5v22.5h-22.5zM1160.89 1223.85h22.5v22.5h-22.5zM1169.39 1223.85h22.5v22.5h-22.5zM370.63 1228.1h22.5v22.5h-22.5zM391.88 1228.1h22.5v22.5h-22.5zM642.55 1228.1h22.5v22.5h-22.5zM757.27 1228.1h22.5v22.5h-22.5zM366.39 1232.34h22.5v22.5h-22.5zM374.88 1232.34h22.5v22.5h-22.5zM387.63 1232.34h22.5v22.5h-22.5zM944.21 1232.34h22.5v22.5h-22.5zM952.71 1232.34h22.5v22.5h-22.5zM969.7 1232.34h22.5v22.5h-22.5zM986.7 1232.34h22.5v22.5h-22.5zM944.21 1236.59h22.5v22.5h-22.5zM952.71 1236.59h22.5v22.5h-22.5zM969.7 1236.59h22.5v22.5h-22.5zM952.71 1240.84h22.5v22.5h-22.5zM387.63 1266.33h22.5v22.5h-22.5zM391.88 1266.33h22.5v22.5h-22.5zM404.62 1266.33h22.5v22.5h-22.5zM387.63 1279.08h22.5v22.5h-22.5zM391.88 1279.08h22.5v22.5h-22.5zM757.27 1279.08h22.5v22.5h-22.5zM1160.89 1279.08h22.5v22.5h-22.5zM387.63 1283.33h22.5v22.5h-22.5zM391.88 1283.33h22.5v22.5h-22.5zM404.62 1283.33h22.5v22.5h-22.5zM408.87 1283.33h22.5v22.5h-22.5zM1152.4 1291.83h22.5v22.5h-22.5zM1160.89 1291.83h22.5v22.5h-22.5zM1275.61 1291.83h22.5v22.5h-22.5zM391.88 1296.07h22.5v22.5h-22.5zM404.62 1296.07h22.5v22.5h-22.5zM408.87 1296.07h22.5v22.5h-22.5zM634.05 1296.07h22.5v22.5h-22.5zM748.77 1296.07h22.5v22.5h-22.5zM1152.4 1296.07h22.5v22.5h-22.5zM404.62 1300.32h22.5v22.5h-22.5zM408.87 1300.32h22.5v22.5h-22.5zM421.62 1300.32h22.5v22.5h-22.5zM740.27 1308.82h22.5v22.5h-22.5zM748.77 1308.82h22.5v22.5h-22.5zM1152.4 1308.82h22.5v22.5h-22.5zM1267.11 1308.82h22.5v22.5h-22.5zM306.9 1313.07h22.5v22.5h-22.5zM315.4 1313.07h22.5v22.5h-22.5zM408.87 1313.07h22.5v22.5h-22.5zM421.62 1313.07h22.5v22.5h-22.5zM430.12 1313.07h22.5v22.5h-22.5zM625.56 1313.07h22.5v22.5h-22.5zM740.27 1313.07h22.5v22.5h-22.5zM421.62 1317.32h22.5v22.5h-22.5zM740.27 1325.82h22.5v22.5h-22.5zM1143.9 1325.82h22.5v22.5h-22.5zM1143.9 1330.06h22.5v22.5h-22.5zM1267.11 1330.06h22.5v22.5h-22.5zM1143.9 1334.31h22.5v22.5h-22.5zM1267.11 1338.56h22.5v22.5h-22.5z"/>
<path stroke="#ff0000" d="M466.86 129.93l15.15 26.24h-30.3zM454.11 134.18l15.15 26.24h-30.3zM458.36 134.18l15.15 26.24h-30.3zM462.61 134.18l15.15 26.24h-30.3zM449.86 138.43l15.15 26.24h-30.3zM454.11 138.43l15.15 26.24h-30.3zM458.36 138.43l15.15 26.24h-30.3zM445.62 142.68l15.15 26.24h-30.3zM449.86 142.68l15.15 26.24h-30.3zM454.11 142.68l15.15 26.24h-30.3zM445.62 146.93l15.15 26.24h-30.3zM449.86 146.93l15.15 26.24h-30.3zM445.62 151.18l15.15 26.24h-30.3zM445.62 155.43l15.15 26.24h-30.3zM441.37 206.41l15.15 26.24h-30.3zM437.12 210.66l15.15 26.24h-30.3zM441.37 210.66l15.15 26.24h-30.3zM445.62 210.66l15.15 26.24h-30.3zM441.37 214.91l15.15 26.24h-30.3zM445.62 214.91l15.15 26.24h-30.3zM449.86 214.91l15.15 26.24h-30.3zM454.11 214.91l15.15 26.24h-30.3zM441.37 219.16l15.15 26.24h-30.3zM445.62 219.16l15.15 26.24h-30.3zM449.86 219.16l15.15 26.24h-30.3zM454.11 219.16l15.15 26.24h-30.3zM458.36 219.16l15.15 26.24h-30.3zM445.62 223.41l15.15 26.24h-30.3zM449.86 223.41l15.15 26.24h-30.3zM454.11 223.41l15.15 26.24h-30.3zM458.36 223.41l15.15 26.24h-30.3zM462.61 223.41l15.15 26.24h-30.3zM449.86 227.65l15.15 26.24h-30.3zM454.11 227.65l15.15 26.24h-30.3zM458.36 227.65l15.15 26.24h-30.3zM462.61 227.65l15.15 26.24h-30.3zM466.86 227.65l15.15 26.24h-30.3zM454.11 231.9l15.15 26.24h-30.3zM458.36 231.9l15.15 26.24h-30.3zM462.61 231.9l15.15 26.24h-30.3zM466.86 231.9l15.15 26.24h-30.3zM462.61 236.15l15.15 26.24h-30.3zM466.86 236.15l15.15 26.24h-30.3zM471.11 236.15l15.15 26.24h-30.3zM581.57 223.41l15.15 26.24h-30.3zM611.31 214.91l15.15 26.24h-30.3zM624.06 206.41l15.15 26.24h-30.3zM628.31 206.41l15.15 26.24h-30.3zM624.06 210.66l15.15 26.24h-30.3zM628.31 210.66l15.15 26.24h-30.3zM632.56 210.66l15.15 26.24h-30.3zM636.81 210.66l15.15 26.24h-30.3zM628.31 214.91l15.15 26.24h-30.3zM632.56 214.91l15.15 26.24h-30.3zM636.81 214.91l15.15 26.24h-30.3zM641.06 214.91l15.15 26.24h-30.3zM628.31 219.16l15.15 26.24h-30.3zM632.56 219.16l15.15 26.24h-30.3zM636.81 219.16l15.15 26.24h-30.3zM641.06 219.16l15.15 26.24h-30.3zM645.3 219.16l15.15 26.24h-30.3zM632.56 223.41l15.15 26.24h-30.3zM636.81 223.41l15.15 26.24h-30.3zM641.06 223.41l15.15 26.24h-30.3zM645.3 223.41l15.15 26.24h-30.3zM636.81 227.65l15.15 26.24h-30.3zM641.06 227.65l15.15 26.24h-30.3zM645.3 227.65l15.15 26.24h-30.3zM649.55 227.65l15.15 26.24h-30.3zM641.06 231.9l15.15 26.24h-30.3zM645.3 231.9l15.15 26.24h-30.3zM649.55 231.9l15.15 26.24h-30.3zM666.55 231.9l15.15 26.24h-30.3zM645.3 236.15l15.15 26.24h-30.3zM649.55 236.15l15.15 26.24h-30.3zM653.8 236.15l15.15 26.24h-30.3zM666.55 236.15l15.15 26.24h-30.3zM653.8 240.4l15.15 26.24h-30.3zM658.05 240.4l15.15 26.24h-30.3zM662.3 240.4l15.15 26.24h-30.3zM662.3 244.65l15.15 26.24h-30.3zM577.33 346.62l15.15 26.24h-30.3zM594.32 346.62l15.15 26.24h-30.3zM564.58 355.12l15.15 26.24h-30.3zM577.33 355.12l15.15 26.24h-30.3zM679.29 440.09l15.15 26.24h-30.3zM679.29 444.34l15.15 26.24h-30.3zM692.04 444.34l15.15 26.24h-30.3zM696.29 444.34l15.15 26.24h-30.3zM679.29 457.08l15.15 26.24h-30.3zM696.29 457.08l15.15 26.24h-30.3zM696.29 461.33l15.15 26.24h-30.3zM743.02 520.81l15.15 26.24h-30.3zM743.02 525.06l15.15 26.24h-30.3zM747.27 525.06l15.15 26.24h-30.3zM738.78 529.31l15.15 26.24h-30.3zM743.02 529.31l15.15 26.24h-30.3zM747.27 529.31l15.15 26.24h-30.3zM751.52 529.31l15.15 26.24h-30.3zM747.27 533.56l15.15 26.24h-30.3zM751.52 533.56l15.15 26.24h-30.3zM755.77 533.56l15.15 26.24h-30.3zM755.77 537.81l15.15 26.24h-30.3zM760.02 537.81l15.15 26.24h-30.3zM764.27 537.81l15.15 26.24h-30.3zM760.02 542.06l15.15 26.24h-30.3zM764.27 542.06l15.15 26.24h-30.3zM764.27 546.31l15.15 26.24h-30.3zM772.77 563.3l15.15 26.24h-30.3zM1112.66 567.55l15.15 26.24h-30.3zM1129.66 580.3l15.15 26.24h-30.3zM1125.41 584.54l15.15 26.24h-30.3zM1125.41 597.29l15.15 26.24h-30.3zM1142.4 593.04l15.15 26.24h-30.3zM1150.9 593.04l15.15 26.24h-30.3zM1142.4 597.29l15.15 26.24h-30.3zM1155.15 635.53l15.15 26.24h-30.3zM1155.15 639.78l15.15 26.24h-30.3zM1159.4 639.78l15.15 26.24h-30.3zM1155.15 644.03l15.15 26.24h-30.3zM1159.4 644.03l15.15 26.24h-30.3zM1163.65 644.03l15.15 26.24h-30.3zM1159.4 648.28l15.15 26.24h-30.3zM1163.65 648.28l15.15 26.24h-30.3zM1167.89 648.28l15.15 26.24h-30.3zM1172.14 648.28l15.15 26.24h-30.3zM1159.4 652.52l15.15 26.24h-30.3zM1163.65 652.52l15.15 26.24h-30.3zM1167.89 652.52l15.15 26.24h-30.3zM1172.14 652.52l15.15 26.24h-30.3zM1167.89 656.77l15.15 26.24h-30.3zM1172.14 656.77l15.15 26.24h-30.3zM1176.39 656.77l15.15 26.24h-30.3zM1172.14 661.02l15.15 26.24h-30.3zM1176.39 661.02l15.15 26.24h-30.3zM1180.64 661.02l15.15 26.24h-30.3zM1180.64 665.27l15.15 26.24h-30.3zM1193.39 665.27l15.15 26.24h-30.3zM1269.86 1047.65l15.15 26.24h-30.3zM1274.11 1047.65l15.15 26.24h-30.3zM1278.36 1047.65l15.15 26.24h-30.3zM1261.37 1051.9l15.15 26.24h-30.3zM1269.86 1051.9l15.15 26.24h-30.3zM1274.11 1051.9l15.15 26.24h-30.3zM1278.36 1051.9l15.15 26.24h-30.3zM1282.61 1051.9l15.15 26.24h-30.3zM1269.86 1056.15l15.15 26.24h-30.3zM1274.11 1056.15l15.15 26.24h-30.3zM1278.36 1056.15l15.15 26.24h-30.3zM1282.61 1056.15l15.15 26.24h-30.3zM1286.86 1056.15l15.15 26.24h-30.3zM1274.11 1060.4l15.15 26.24h-30.3zM1278.36 1060.4l15.15 26.24h-30.3zM1282.61 1060.4l15.15 26.24h-30.3zM1286.86 1060.4l15.15 26.24h-30.3zM1291.11 1060.4l15.15 26.24h-30.3zM1278.36 1064.65l15.15 26.24h-30.3zM1282.61 1064.65l15.15 26.24h-30.3zM1286.86 1064.65l15.15 26.24h-30.3zM1291.11 1064.65l15.15 26.24h-30.3zM1295.36 1064.65l15.15 26.24h-30.3zM1282.61 1068.9l15.15 26.24h-30.3zM1286.86 1068.9l15.15 26.24h-30.3zM1291.11 1068.9l15.15 26.24h-30.3zM1295.36 1068.9l15.15 26.24h-30.3zM1299.6 1068.9l15.15 26.24h-30.3zM1286.86 1073.15l15.15 26.24h-30.3zM1291.11 1073.15l15.15 26.24h-30.3zM1295.36 1073.15l15.15 26.24h-30.3zM1299.6 1073.15l15.15 26.24h-30.3zM1303.85 1073.15l15.15 26.24h-30.3zM1308.1 1073.15l15.15 26.24h-30.3zM1291.11 1077.39l15.15 26.24h-30.3zM1295.36 1077.39l15.15 26.24h-30.3zM1299.6 1077.39l15.15 26.24h-30.3zM1303.85 1077.39l15.15 26.24h-30.3zM1308.1 1077.39l15.15 26.24h-30.3zM1303.85 1081.64l15.15 26.24h-30.3zM1308.1 1081.64l15.15 26.24h-30.3zM1312.35 1081.64l15.15 26.24h-30.3zM1308.1 1085.89l15.15 26.24h-30.3zM1312.35 1085.89l15.15 26.24h-30.3zM1316.6 1085.89l15.15 26.24h-30.3zM1312.35 1090.14l15.15 26.24h-30.3zM1316.6 1090.14l15.15 26.24h-30.3z"/>
</g>
<g fill="none" stroke="#000" stroke-width="3.1" stroke-linecap="round" stroke-linejoin="round">
<rect x="120" y="30" width="1450" height="1449.8"/>
<path d="M169.45 1479.8H1444.06M169.45 1479.8v30M381.88 1479.8v30M594.32 1479.8v30M806.76 1479.8v30M1019.19 1479.8v30M1231.63 1479.8v30M1444.06 1479.8v30M120 79.45V1354.06M120 79.45h-30M120 291.89h-30M120 504.32h-30M120 716.76h-30M120 929.19h-30M120 1141.63h-30M120 1354.06h-30"/>
</g>
<g class="ax" text-anchor="middle">
<text transform="translate(168.25 1589) scale(1 1.045)">0</text>
<text transform="translate(380.69 1589) scale(1 1.045)">50</text>
<text transform="translate(593.12 1589) scale(1 1.045)">100</text>
<text transform="translate(805.56 1589) scale(1 1.045)">150</text>
<text transform="translate(1017.99 1589) scale(1 1.045)">200</text>
<text transform="translate(1230.43 1589) scale(1 1.045)">250</text>
<text transform="translate(1442.86 1589) scale(1 1.045)">300</text>
<text transform="translate(49 79.95) rotate(-90) scale(1 1.045)">0</text>
<text transform="translate(49 292.39) rotate(-90) scale(1 1.045)">50</text>
<text transform="translate(49 504.82) rotate(-90) scale(1 1.045)">100</text>
<text transform="translate(49 717.26) rotate(-90) scale(1 1.045)">150</text>
<text transform="translate(49 929.69) rotate(-90) scale(1 1.045)">200</text>
<text transform="translate(49 1142.13) rotate(-90) scale(1 1.045)">250</text>
<text transform="translate(49 1354.56) rotate(-90) scale(1 1.045)">300</text>
</g>
<g fill="none" stroke-width="3.1" stroke-linejoin="round">
<path stroke="#ff0000" d="M1202.5 72.5l15.15 26.24h-30.3z"/>
<path stroke="#0000ff" d="M1191.25 138.75h22.5v22.5h-22.5z"/>
</g>
<text class="lg" x="1248" y="108">DNCON2-RR</text>
<text class="lg" x="1248" y="167">Model-RR</text>
<text class="big" x="199" y="1451">Top-L/2</text>
</svg>
</body>
</html>
